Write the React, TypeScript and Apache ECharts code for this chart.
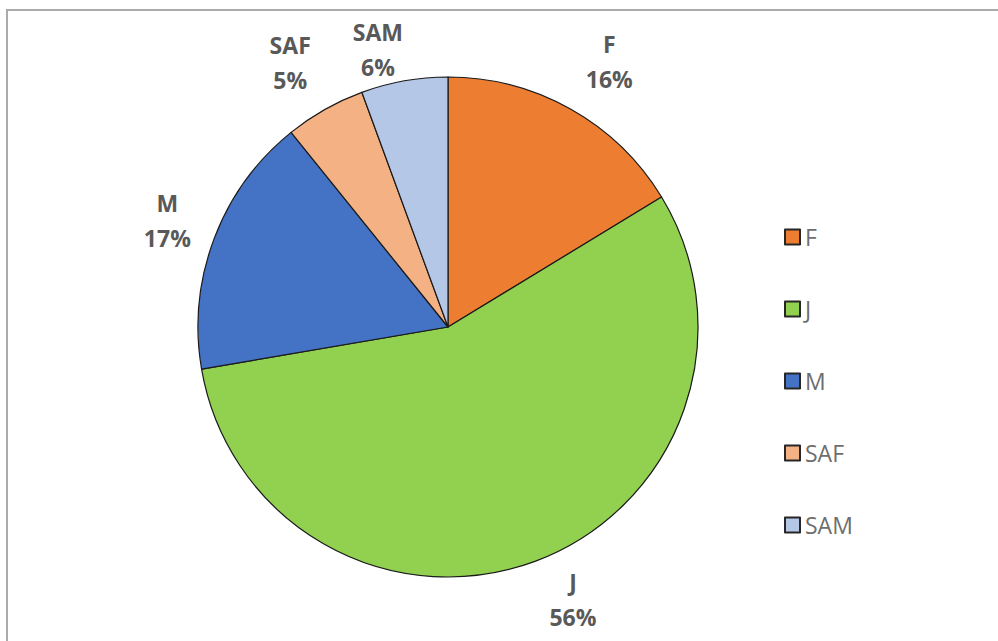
import React, { useEffect, useRef } from "react";
import * as echarts from "echarts";

const categories = ["F", "J", "M", "SAF", "SAM"];
const values = [16.3, 56.0, 16.9, 5.2, 5.6];
const colors = ["#ED7D31", "#92D050", "#4472C4", "#F4B183", "#B4C7E7"];
// label placement: distance (px) beyond the pie edge and angular nudge (deg) from the slice mid-angle
const labelDistances = [61, 50, 50, 58, 36];
const labelAngleNudges = [1.9, -4.1, 0, -1.3, -4.1];

const CENTER = [448, 327];
const RADIUS = 250;

export default function App() {
  const ref = useRef<HTMLDivElement>(null);
  useEffect(() => {
    if (!ref.current) return;
    const chart = echarts.init(ref.current, undefined, { renderer: "svg" });
    const total = values.reduce((a, b) => a + b, 0);
    const midAngles: number[] = [];
    let acc = 0;
    values.forEach((v) => {
      midAngles.push(((acc + v / 2) / total) * Math.PI * 2);
      acc += v;
    });
    chart.setOption({
      animation: false,
      backgroundColor: "#ffffff",
      graphic: [
        {
          type: "rect",
          shape: { x: 7, y: 10, width: 1200, height: 900 },
          style: { fill: "none", stroke: "#ababab", lineWidth: 2 },
          silent: true,
        },
      ],
      legend: {
        orient: "vertical",
        left: 779,
        top: 220,
        itemWidth: 15,
        itemHeight: 15,
        itemGap: 48,
        icon: "rect",
        itemStyle: { borderColor: "#262626", borderWidth: 2 },
        textStyle: {
          fontFamily: "Open Sans",
          fontSize: 23,
          color: "#6e6e6e",
          lineHeight: 24,
        },
        data: categories,
      },
      series: [
        {
          type: "pie",
          center: CENTER,
          radius: RADIUS,
          startAngle: 90,
          clockwise: true,
          data: categories.map((c, i) => ({
            name: c,
            value: values[i],
            itemStyle: { color: colors[i] },
          })),
          itemStyle: { borderColor: "#1a1a1a", borderWidth: 1.2 },
          label: {
            show: true,
            position: "outside",
            formatter: (p: any) => `${p.name}\n${Math.round(p.percent)}%`,
            fontFamily: "Open Sans",
            fontWeight: "bold",
            fontSize: 23,
            lineHeight: 35,
            color: "#595959",
            align: "center",
          },
          labelLine: { show: false },
          labelLayout: (p: any) => {
            const i = p.dataIndex;
            const a = midAngles[i] + (labelAngleNudges[i] * Math.PI) / 180;
            const d = RADIUS + labelDistances[i];
            return {
              x: CENTER[0] + Math.sin(a) * d,
              y: CENTER[1] - Math.cos(a) * d,
              align: "center",
              verticalAlign: "middle",
            };
          },
        },
      ],
    });
    return () => chart.dispose();
  }, []);
  return (
    <div
      ref={ref}
      style={{ position: "absolute", left: 0, top: 0, width: 998, height: 641 }}
    />
  );
}
